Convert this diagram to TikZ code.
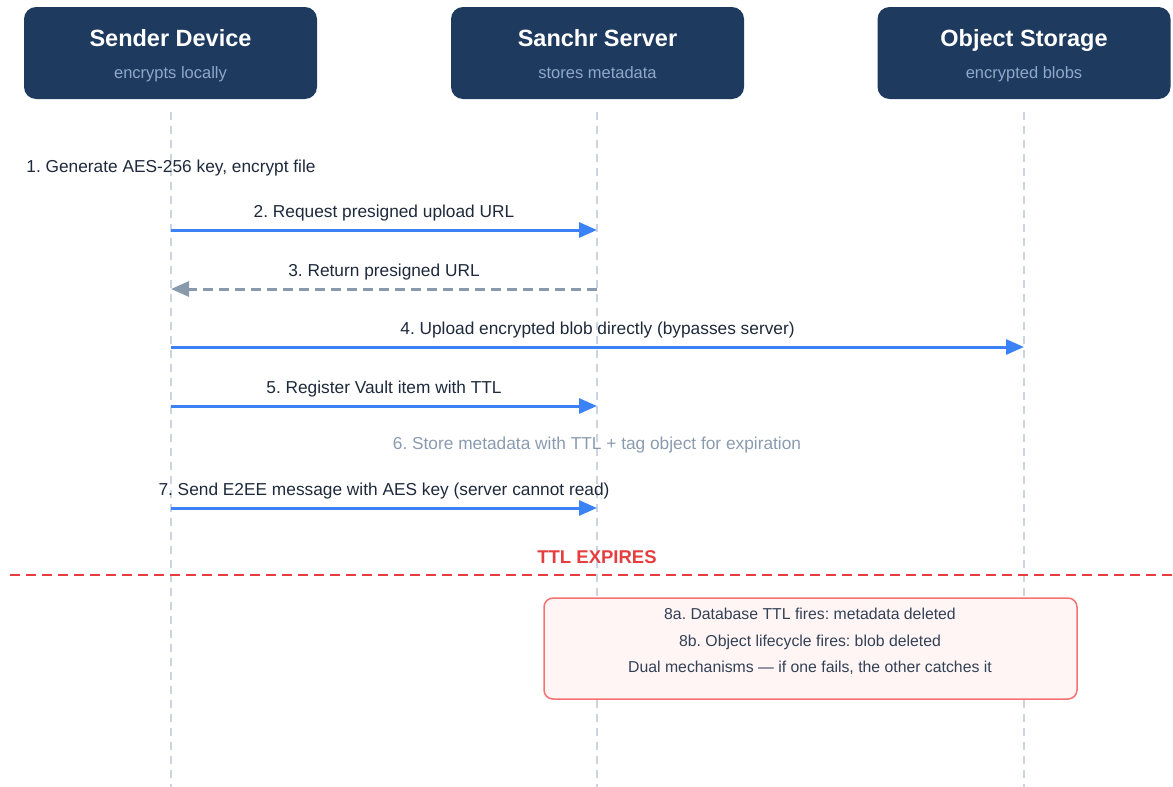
\documentclass[tikz,border=0pt]{standalone}
\usepackage{fontspec}
\setmainfont{Liberation Sans}
\usetikzlibrary{arrows.meta}
\definecolor{hdr}{HTML}{1E3A5F}
\definecolor{hdrsub}{HTML}{8FA8C8}
\definecolor{lifec}{HTML}{CBD5E1}
\definecolor{bluec}{HTML}{3B82F6}
\definecolor{grayc}{HTML}{8A9AAD}
\definecolor{txt}{HTML}{1E293B}
\definecolor{note}{HTML}{8A9BB0}
\definecolor{redc}{HTML}{E53E3E}
\definecolor{boxfill}{HTML}{FFF5F5}
\definecolor{boxline}{HTML}{F87171}
\definecolor{boxtxt}{HTML}{334155}
\tikzset{
  header/.style={draw=none,fill=hdr,rounded corners=12pt,minimum width=293pt,minimum height=92pt,inner sep=0pt},
  htitle/.style={text=white,font=\fontsize{23.5}{28}\selectfont\bfseries,inner sep=0pt,anchor=base},
  hsub/.style={text=hdrsub,font=\fontsize{16.5}{20}\selectfont,inner sep=0pt,anchor=base},
  lifeline/.style={draw=lifec,line width=2.2pt,dash pattern=on 8pt off 6pt},
  msg/.style={draw=bluec,line width=3pt,-{Triangle[length=18pt,width=15pt]}},
  ret/.style={draw=grayc,line width=3pt,dash pattern=on 10pt off 6pt,-{Triangle[length=18pt,width=15pt]}},
  lbl/.style={text=txt,font=\fontsize{17.3}{20}\selectfont,inner sep=0pt,anchor=base},
  notelbl/.style={text=note,font=\fontsize{17.3}{20}\selectfont,inner sep=0pt,anchor=base},
  boxlbl/.style={text=boxtxt,font=\fontsize{15.8}{19}\selectfont,inner sep=0pt,anchor=base},
}
\begin{document}
\frenchspacing
\begin{tikzpicture}[x=1pt,y=-1pt]
\useasboundingbox (0,0) rectangle (1173,787);
% headers
\node[header] (sender) at (170.5,53) {};
\node[header] (server) at (597.5,53) {};
\node[header] (storage) at (1024,53) {};
\node[htitle] (senderT) at (170.5,46) {Sender Device};
\node[hsub] (senderS) at (170.5,78) {encrypts locally};
\node[htitle] (serverT) at (597.5,46) {Sanchr Server};
\node[hsub] (serverS) at (597.5,78) {stores metadata};
\node[htitle] (storageT) at (1024,46) {Object Storage};
\node[hsub] (storageS) at (1024,78) {encrypted blobs};
% lifelines
\coordinate (sTop) at (171,112);
\coordinate (sBot) at (171,787);
\coordinate (vTop) at (597,112);
\coordinate (vBot) at (597,787);
\coordinate (oTop) at (1024,112);
\coordinate (oBot) at (1024,787);
\draw[lifeline] (sTop) -- (sBot);
\draw[lifeline] (vTop) -- (vBot);
\draw[lifeline] (oTop) -- (oBot);
% step 1
\node[lbl] (m1) at (171,172) {1. Generate AES-256 key, encrypt file};
% step 2
\coordinate (s2) at (171,230);
\coordinate (v2) at (597,230);
\draw[msg] (s2) -- (v2);
\node[lbl] (m2) at (384,217) {2. Request presigned upload URL};
% step 3
\coordinate (v3) at (597,289);
\coordinate (s3) at (171,289);
\draw[ret] (v3) -- (s3);
\node[lbl] (m3) at (384,276) {3. Return presigned URL};
% step 4
\coordinate (s4) at (171,347);
\coordinate (o4) at (1024,347);
\draw[msg] (s4) -- (o4);
\node[lbl] (m4) at (597.5,334) {4. Upload encrypted blob directly (bypasses server)};
% step 5
\coordinate (s5) at (171,406);
\coordinate (v5) at (597,406);
\draw[msg] (s5) -- (v5);
\node[lbl] (m5) at (384,393) {5. Register Vault item with TTL};
% step 6
\node[notelbl] (m6) at (597,449) {6. Store metadata with TTL + tag object for expiration};
% step 7
\coordinate (s7) at (171,508);
\coordinate (v7) at (597,508);
\draw[msg] (s7) -- (v7);
\node[lbl] (m7) at (384,495) {7. Send E2EE message with AES key (server cannot read)};
% TTL expires
\node[text=redc,font=\fontsize{18.5}{22}\selectfont\bfseries,inner sep=0pt,anchor=base] (ttl) at (597,563) {TTL EXPIRES};
\coordinate (tL) at (10,575);
\coordinate (tR) at (1173,575);
\draw[draw=redc,line width=2.2pt,dash pattern=on 10pt off 6pt] (tL) -- (tR);
% expiry box
\node[draw=boxline,fill=boxfill,line width=1.5pt,rounded corners=9pt,minimum width=533pt,minimum height=101pt,inner sep=0pt] (expbox) at (810.5,648.5) {};
\node[boxlbl] (b1) at (810,619) {8a. Database TTL fires: metadata deleted};
\node[boxlbl] (b2) at (810,646) {8b. Object lifecycle fires: blob deleted};
\node[boxlbl] (b3) at (810,672) {Dual mechanisms — if one fails, the other catches it};
\end{tikzpicture}
\end{document}
